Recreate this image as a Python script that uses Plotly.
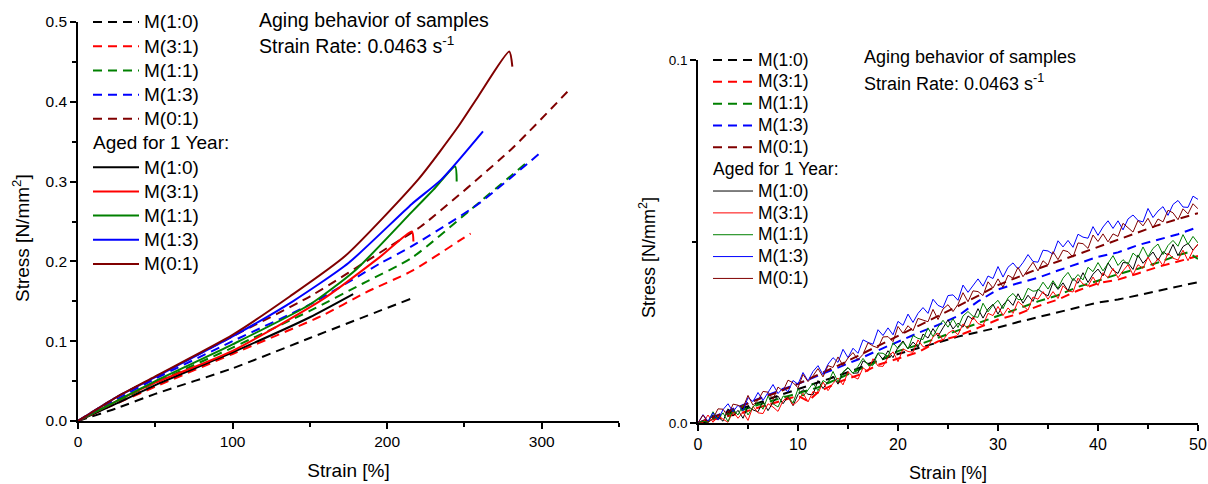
import plotly.graph_objects as go

# ---------------- categories / styles ----------------
labels = ["M(1:0)", "M(3:1)", "M(1:1)", "M(1:3)", "M(0:1)"]
colors = ["#000000", "#FF0000", "#008000", "#0000FF", "#800000"]
group_title = "Aged for 1 Year:"
x_title = "Strain [%]"
y_title = "Stress [N/mm<sup>2</sup>]"

# ---------------- LEFT PANEL (full range) ----------------
# fresh samples (dashed)
lf_x_10 = [0, 25, 50, 100, 150, 215]
lf_y_10 = [0, 0.016, 0.034, 0.066, 0.104, 0.153]
lf_x_31 = [0, 25, 50, 100, 158, 186, 216, 246, 254]
lf_y_31 = [0, 0.022, 0.043, 0.084, 0.132, 0.161, 0.188, 0.225, 0.235]
lf_x_11 = [0, 25, 50, 100, 150, 184, 216, 259, 291]
lf_y_11 = [0, 0.024, 0.048, 0.092, 0.138, 0.172, 0.2045, 0.273, 0.325]
lf_x_13 = [0, 25, 50, 100, 150, 195, 216, 259, 299]
lf_y_13 = [0, 0.027, 0.053, 0.1, 0.146, 0.197, 0.219, 0.272, 0.336]
lf_x_01 = [0, 25, 50, 100, 150, 201, 222, 280, 319]
lf_y_01 = [0, 0.03, 0.055, 0.106, 0.156, 0.218, 0.244, 0.34, 0.4175]

# aged 1 year (solid)
la_x_10 = [0, 25, 50, 100, 150, 178]
la_y_10 = [0, 0.022, 0.045, 0.086, 0.13, 0.159]
la_x_31 = [0, 25, 50, 100, 158, 195, 216, 217]
la_y_31 = [0, 0.025, 0.048, 0.088, 0.152, 0.205, 0.2375, 0.225]
la_x_11 = [0, 25, 50, 100, 150, 180, 216, 230, 244, 245]
la_y_11 = [0, 0.025, 0.05, 0.096, 0.146, 0.19, 0.262, 0.29, 0.319, 0.30]
la_x_13 = [0, 25, 50, 100, 139, 175, 216, 235, 262]
la_y_13 = [0, 0.03, 0.055, 0.106, 0.15, 0.198, 0.272, 0.3025, 0.363]
la_x_01 = [0, 25, 50, 100, 137, 173, 220, 246, 259, 279, 281]
la_y_01 = [0, 0.03, 0.056, 0.108, 0.156, 0.207, 0.3025, 0.369, 0.407, 0.463, 0.444]

# ---------------- RIGHT PANEL (0-50 % zoom) ----------------
rf_x = [0, 2, 4, 6, 8, 10, 12, 14, 16, 18, 20, 22, 24, 26, 28, 30, 32, 34, 36, 38, 40, 42, 44, 46, 48, 50]
rf_y_10 = [0, .0018, .0035, .0055, .0075, .0093, .0110, .0130, .0150, .0172, .0190, .0205, .0222, .0238,
           .0250, .0263, .0278, .0292, .0305, .0318, .0332, .0340, .0352, .0365, .0375, .0388]
rf_x_31 = [0, 2, 4, 6, 8, 10, 11, 12, 14, 16, 18, 20, 22, 24, 26, 28, 30, 32, 34, 36, 38, 40, 42, 44, 46, 48, 50]
rf_y_31 = [0, .0012, .0025, .0042, .0058, .0075, .0060, .0085, .0112, .0132, .0160, .0178, .0195, .0225,
           .0240, .0262, .0285, .0300, .0322, .0340, .0365, .0385, .0395, .0412, .0430, .0445, .0460]
rf_x_11 = [0, 2, 4, 6, 8, 10, 12, 14, 16, 18, 20, 22, 24, 26, 28, 30, 32, 34, 36, 38, 40, 42, 44, 46, 48, 49, 50]
rf_y_11 = [0, .0015, .0032, .0050, .0066, .0082, .0098, .0122, .0145, .0170, .0198, .0215, .0235, .0255,
           .0275, .0295, .0315, .0335, .0352, .0375, .0392, .0410, .0425, .0442, .0462, .0470, .0452]
rf_y_13 = [0, .0022, .0045, .0068, .0088, .0108, .0130, .0152, .0175, .0200, .0225, .0248, .0270, .0295,
           .0335, .0368, .0385, .0400, .0420, .0440, .0458, .0470, .0490, .0505, .0520, .0540]
rf_y_01 = [0, .0020, .0042, .0065, .0085, .0108, .0132, .0158, .0185, .0212, .0240, .0268, .0295, .0322,
           .0350, .0380, .0402, .0425, .0445, .0465, .0485, .0505, .0525, .0545, .0562, .0578]

ra_x = [0, 0.5, 1, 1.5, 2, 2.5, 3, 3.5, 4, 4.5, 5, 5.5, 6, 6.5, 7, 7.5, 8, 8.5, 9, 9.5,
        10, 10.5, 11, 11.5, 12, 12.5, 13, 13.5, 14, 14.5, 15, 15.5, 16, 16.5, 17, 17.5, 18, 18.5, 19, 19.5,
        20, 20.5, 21, 21.5, 22, 22.5, 23, 23.5, 24, 24.5, 25, 25.5, 26, 26.5, 27, 27.5, 28, 28.5, 29, 29.5,
        30, 30.5, 31, 31.5, 32, 32.5, 33, 33.5, 34, 34.5, 35, 35.5, 36, 36.5, 37, 37.5, 38, 38.5, 39, 39.5,
        40, 40.5, 41, 41.5, 42, 42.5, 43, 43.5, 44, 44.5, 45, 45.5, 46, 46.5, 47, 47.5, 48, 48.5, 49, 49.5, 50]
ra_y_10 = [.0000, .0001, .0002, .0022, .0017, .0005, .0039, .0019, .0035, .0013,
           .0046, .0036, .0031, .0060, .0034, .0057, .0074, .0053, .0073, .0048,
           .0078, .0092, .0079, .0078, .0117, .0095, .0114, .0129, .0107, .0139,
           .0152, .0137, .0138, .0171, .0164, .0168, .0192, .0175, .0199, .0180,
           .0209, .0226, .0204, .0223, .0209, .0245, .0234, .0260, .0239, .0262,
           .0284, .0259, .0275, .0264, .0295, .0285, .0315, .0289, .0314, .0327,
           .0300, .0325, .0340, .0324, .0356, .0330, .0352, .0335, .0369, .0358,
           .0350, .0387, .0368, .0386, .0364, .0398, .0385, .0414, .0387, .0410,
           .0424, .0405, .0441, .0421, .0412, .0442, .0441, .0423, .0463, .0440,
           .0455, .0471, .0448, .0472, .0462, .0492, .0461, .0486, .0495, .0476, .0492]
ra_y_31 = [.0000, .0001, .0022, .0002, .0019, .0011, .0002, .0032, .0013, .0030,
           .0007, .0046, .0028, .0026, .0053, .0044, .0032, .0061, .0073, .0049,
           .0061, .0082, .0058, .0087, .0081, .0113, .0089, .0109, .0124, .0105,
           .0141, .0128, .0121, .0152, .0142, .0177, .0157, .0156, .0181, .0196,
           .0169, .0204, .0197, .0195, .0229, .0210, .0209, .0237, .0248, .0228,
           .0247, .0256, .0243, .0273, .0260, .0292, .0274, .0269, .0302, .0296,
           .0321, .0296, .0317, .0302, .0335, .0323, .0311, .0347, .0341, .0362,
           .0341, .0362, .0343, .0378, .0364, .0361, .0399, .0383, .0377, .0402,
           .0379, .0414, .0400, .0426, .0400, .0419, .0436, .0408, .0436, .0426,
           .0457, .0432, .0454, .0433, .0468, .0454, .0449, .0476, .0447, .0476, .0493]
ra_y_11 = [.0000, .0005, .0002, .0031, .0010, .0028, .0004, .0037, .0022, .0050,
           .0022, .0044, .0057, .0038, .0074, .0053, .0044, .0074, .0073, .0055,
           .0094, .0074, .0091, .0110, .0089, .0117, .0109, .0142, .0113, .0141,
           .0153, .0137, .0156, .0178, .0160, .0159, .0193, .0192, .0183, .0221,
           .0205, .0223, .0204, .0241, .0233, .0230, .0262, .0238, .0264, .0283,
           .0264, .0287, .0263, .0295, .0307, .0294, .0291, .0330, .0306, .0325,
           .0338, .0315, .0345, .0357, .0340, .0340, .0371, .0363, .0365, .0388,
           .0369, .0392, .0371, .0399, .0415, .0392, .0409, .0394, .0429, .0417,
           .0442, .0419, .0440, .0461, .0434, .0450, .0437, .0468, .0456, .0485,
           .0458, .0481, .0493, .0464, .0489, .0503, .0487, .0519, .0492, .0514, .0496]
ra_y_13 = [.0000, .0023, .0005, .0028, .0008, .0037, .0053, .0031, .0049, .0034,
           .0070, .0059, .0084, .0062, .0084, .0106, .0081, .0097, .0086, .0117,
           .0107, .0139, .0116, .0142, .0158, .0133, .0162, .0180, .0167, .0203,
           .0180, .0206, .0192, .0229, .0222, .0217, .0257, .0241, .0262, .0243,
           .0280, .0269, .0300, .0277, .0302, .0318, .0302, .0341, .0324, .0318,
           .0351, .0353, .0338, .0380, .0360, .0378, .0397, .0377, .0405, .0398,
           .0431, .0402, .0429, .0441, .0424, .0442, .0464, .0445, .0443, .0476,
           .0474, .0465, .0502, .0485, .0503, .0484, .0520, .0512, .0509, .0541,
           .0517, .0540, .0557, .0536, .0557, .0532, .0562, .0573, .0558, .0554,
           .0591, .0566, .0584, .0596, .0572, .0602, .0613, .0595, .0594, .0625, .0616]
ra_y_01 = [.0000, .0022, .0001, .0012, .0039, .0038, .0018, .0052, .0049, .0042,
           .0076, .0049, .0062, .0087, .0085, .0065, .0099, .0088, .0118, .0111,
           .0097, .0134, .0114, .0130, .0150, .0127, .0158, .0153, .0182, .0158,
           .0179, .0194, .0174, .0189, .0221, .0212, .0207, .0237, .0238, .0224,
           .0266, .0247, .0268, .0254, .0288, .0283, .0279, .0313, .0285, .0314,
           .0326, .0307, .0327, .0359, .0334, .0364, .0362, .0351, .0389, .0372,
           .0397, .0374, .0407, .0399, .0429, .0403, .0422, .0443, .0419, .0447,
           .0435, .0472, .0450, .0476, .0472, .0457, .0496, .0494, .0481, .0518,
           .0500, .0521, .0499, .0521, .0514, .0550, .0538, .0526, .0558, .0543,
           .0564, .0538, .0562, .0554, .0586, .0579, .0560, .0590, .0576, .0604, .0590]

FONT = "Arial, Liberation Sans, sans-serif"


def big(text, px):
    return '<span style="font-size:%spx">%s</span>' % (px, text)


left_fresh = [(lf_x_10, lf_y_10), (lf_x_31, lf_y_31), (lf_x_11, lf_y_11), (lf_x_13, lf_y_13), (lf_x_01, lf_y_01)]
left_aged = [(la_x_10, la_y_10), (la_x_31, la_y_31), (la_x_11, la_y_11), (la_x_13, la_y_13), (la_x_01, la_y_01)]
right_fresh = [(rf_x, rf_y_10), (rf_x_31, rf_y_31), (rf_x_11, rf_y_11), (rf_x, rf_y_13), (rf_x, rf_y_01)]
right_aged = [(ra_x, ra_y_10), (ra_x, ra_y_31), (ra_x, ra_y_11), (ra_x, ra_y_13), (ra_x, ra_y_01)]

fig = go.Figure()
DASH = "9px,6px"


def add_set(data, xa, ya, legend, dashed, width, group, px, base, title=None, spline=False):
    for i, (xs, ys) in enumerate(data):
        kw = {}
        if title is not None:
            kw["legendgrouptitle"] = dict(text=big(title, px), font=dict(size=base, family=FONT, color="black"))
        fig.add_trace(go.Scatter(
            x=xs, y=ys, mode="lines", name=big(labels[i], px),
            line=dict(color=colors[i], width=width, dash=DASH if dashed else "solid",
                      shape="spline" if spline else "linear", smoothing=0.6),
            xaxis=xa, yaxis=ya, legend=legend, legendgroup=group + legend, **kw))


add_set(left_fresh, "x", "y", "legend", True, 2, "fresh", 19, 16.3, spline=True)
add_set(left_aged, "x", "y", "legend", False, 2, "aged", 19, 16.3, title=group_title, spline=True)
add_set(right_fresh, "x2", "y2", "legend2", True, 2, "fresh", 17.5, 14.5)
add_set(right_aged, "x2", "y2", "legend2", False, 1, "aged", 17.5, 14.5, title=group_title)


def axis(tick_size, **extra):
    d = dict(showgrid=False, zeroline=False, showline=True, linecolor="black", linewidth=1.5,
             ticks="outside", ticklen=6, tickwidth=1.5, tickcolor="black", automargin=False,
             tickfont=dict(size=tick_size, family=FONT, color="black"))
    d.update(extra)
    return d


def minor(step):
    return dict(dtick=step, ticks="outside", ticklen=4, tickwidth=1.5, tickcolor="black")


W, H = 1208, 484
fig.update_layout(
    width=W, height=H,
    margin=dict(l=0, r=0, t=0, b=0, autoexpand=False),
    paper_bgcolor="white", plot_bgcolor="white",
    font=dict(family=FONT, color="black"),
    xaxis=axis(15.5, domain=[78 / W, 619 / W], range=[0, 350], dtick=100, anchor="y", minor=minor(50),
               title=dict(text=x_title, standoff=14, font=dict(size=19, family=FONT, color="black"))),
    yaxis=axis(15.5, domain=[1 - 421 / H, 1 - 22 / H], range=[0, 0.5], dtick=0.1, tickformat=".1f",
               anchor="x", minor=minor(0.05)),
    xaxis2=axis(16, domain=[698 / W, 1198 / W], range=[0, 50], dtick=10, anchor="y2", minor=minor(5),
                title=dict(text=x_title, standoff=14, font=dict(size=18, family=FONT, color="black"))),
    yaxis2=axis(13.5, domain=[1 - 423 / H, 1 - 60 / H], range=[0, 0.1], dtick=0.1, tickformat=".1f",
                anchor="x2", minor=minor(0.05)),
    legend=dict(x=88 / W, y=1 - 5 / H, xanchor="left", yanchor="top", bgcolor="rgba(0,0,0,0)",
                font=dict(size=16.3, family=FONT, color="black"), tracegroupgap=0, traceorder="grouped",
                itemwidth=46),
    legend2=dict(x=708 / W, y=1 - 44 / H, xanchor="left", yanchor="top", bgcolor="rgba(0,0,0,0)",
                 font=dict(size=14.5, family=FONT, color="black"), tracegroupgap=0, traceorder="grouped",
                 itemwidth=40),
    showlegend=True,
)

# y-axis titles (placed like the reference, slightly below the axis centre)
fig.add_annotation(xref="paper", yref="paper", x=21 / W, y=1 - 238 / H, xanchor="center", yanchor="middle",
                   text=y_title, textangle=-90, showarrow=False, font=dict(size=19, family=FONT, color="black"))
fig.add_annotation(xref="paper", yref="paper", x=647 / W, y=1 - 258 / H, xanchor="center", yanchor="middle",
                   text=y_title, textangle=-90, showarrow=False, font=dict(size=18, family=FONT, color="black"))

ann1 = dict(size=19.5, family=FONT, color="black")
fig.add_annotation(xref="paper", yref="paper", x=257 / W, y=1 - 20 / H, xanchor="left", yanchor="middle",
                   text="Aging behavior of samples", showarrow=False, font=ann1)
fig.add_annotation(xref="paper", yref="paper", x=257 / W, y=1 - 45 / H, xanchor="left", yanchor="middle",
                   text="Strain Rate: 0.0463 s<sup>-1</sup>", showarrow=False, font=ann1)
ann2 = dict(size=18, family=FONT, color="black")
fig.add_annotation(xref="paper", yref="paper", x=862 / W, y=1 - 57 / H, xanchor="left", yanchor="middle",
                   text="Aging behavior of samples", showarrow=False, font=ann2)
fig.add_annotation(xref="paper", yref="paper", x=862 / W, y=1 - 82 / H, xanchor="left", yanchor="middle",
                   text="Strain Rate: 0.0463 s<sup>-1</sup>", showarrow=False, font=ann2)

fig.write_html("out.html")
